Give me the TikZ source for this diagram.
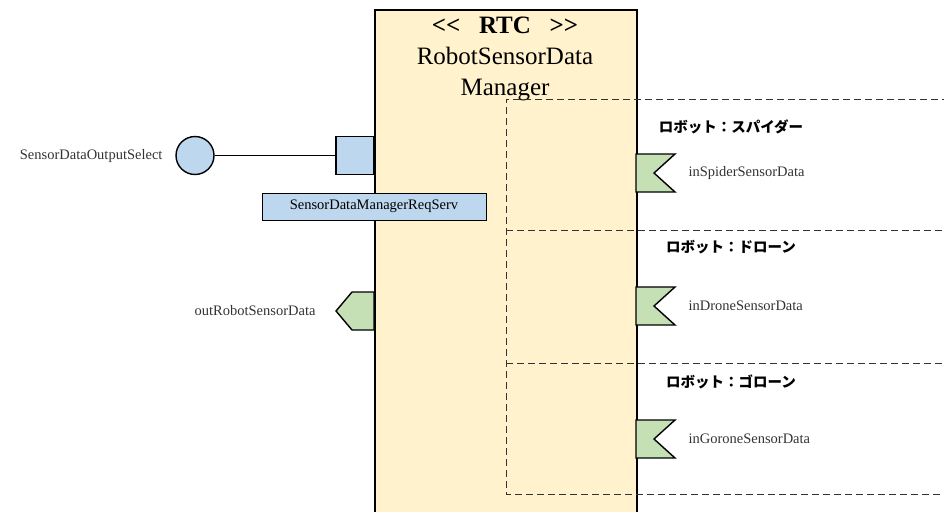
\documentclass[tikz,border=0pt]{standalone}
\usepackage{fontspec}
\setmainfont{Liberation Serif}
\newfontfamily\jpfont{Noto Sans CJK JP}
\definecolor{rtcfill}{HTML}{FFF2CC}
\definecolor{svcfill}{HTML}{BDD7EE}
\definecolor{portfill}{HTML}{C5E0B4}
\begin{document}
\begin{tikzpicture}[x=1pt,y=-1pt,
    rtcbox/.style={draw, line width=1.6pt, fill=rtcfill, anchor=north west,
                   minimum width=262, minimum height=530, inner sep=0pt},
    svcport/.style={draw, line width=1.4pt, fill=svcfill, minimum size=38, inner sep=0pt},
    dataport/.style={draw, line width=1.4pt, fill=portfill, line join=miter},
    lbl/.style={font=\fontsize{14.5}{16}\selectfont, text=black!80},
    robot/.style={font=\jpfont\bfseries\fontsize{14.5}{16}\selectfont},
    sect/.style={draw, line width=0.8pt, dash pattern=on 7pt off 4pt, black!80}]
  \useasboundingbox (0,0) rectangle (944,511);
  \clip (0,0) rectangle (944,511);

  % component
  \node[rtcbox] (rtc) at (374,9) {};
  \node[align=center, font=\fontsize{25}{31}\selectfont] (title) at (505,59)
    {\textbf{{<}{<}\ \ \ RTC\ \ \ {>}{>}}\\RobotSensorData\\Manager};

  % service port
  \node[svcport, circle] (sel) at (195,155.5) {};
  \node[svcport] (svc) at (355,155.5) {};
  \draw[line width=0.9pt] (sel) -- (svc);
  \node[lbl, anchor=east] (sellbl) at (166,156) {SensorDataOutputSelect};
  \node[draw, line width=0.5pt, fill=svcfill, minimum width=224, minimum height=27,
        lbl, text=black] (reqserv) at (374,206.5) {SensorDataManagerReqServ};

  % out port
  \draw[dataport] (374,292) -- (352,292) -- (336,311) -- (352,330) -- (374,330) -- cycle;
  \node[lbl, anchor=east] (outlbl) at (319,311) {outRobotSensorData};

  % robot sections
  \draw[sect] (960,99) -- (506,99) -- (506,494) -- (960,494);
  \draw[sect] (506,230) -- (960,230);
  \draw[sect] (506,363) -- (960,363);

  \foreach \py/\ry/\rname/\pname in {154/127/スパイダー/inSpiderSensorData,
                                     287/247/ドローン/inDroneSensorData,
                                     420/382/ゴローン/inGoroneSensorData}{
    \node[robot] (r-\pname) at (731,\ry) {ロボット：\rname};
    \draw[dataport] (636,\py) -- ++(39,0) -- ++(-21,19) -- ++(21,19) -- ++(-39,0) -- cycle;
    \node[lbl, anchor=west] (l-\pname) at (685,\py+19) {\pname};
  }
\end{tikzpicture}
\end{document}
